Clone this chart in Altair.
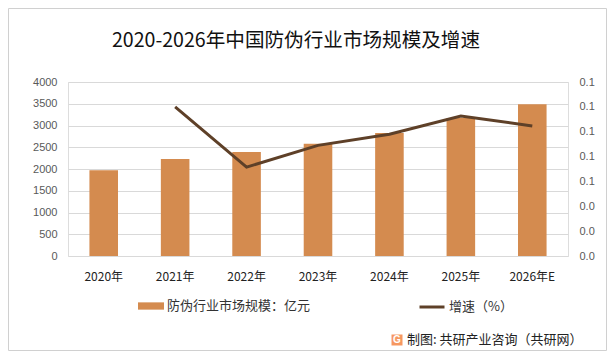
import altair as alt
import pandas as pd

years = ["2020年", "2021年", "2022年", "2023年", "2024年", "2025年", "2026年E"]
market_size = [1970, 2230, 2390, 2580, 2830, 3170, 3490]
growth_years = ["2021年", "2022年", "2023年", "2024年", "2025年", "2026年E"]
growth_rate = [0.120, 0.0715, 0.089, 0.098, 0.1127, 0.1046]

bar_label = "防伪行业市场规模：亿元"
line_label = "增速（%）"
title_text = "2020-2026年中国防伪行业市场规模及增速"
footer_text = "制图: 共研产业咨询（共研网）"

BAR_COLOR = "#D48B4F"
LINE_COLOR = "#5E4028"
CJK = "Noto Sans CJK SC"

df_bar = pd.DataFrame({"year": years, "size": market_size, "series": bar_label})
df_line = pd.DataFrame({"year": growth_years, "rate": growth_rate, "series": line_label})

x_enc = alt.X("year:N", sort=years, title=None,
              scale=alt.Scale(paddingInner=0.6, paddingOuter=0.3),
              axis=alt.Axis(labelAngle=0, labelFont=CJK, labelFontSize=12, labelColor="#222222",
                            ticks=False, domain=False, labelPadding=15))

bars = alt.Chart(df_bar).mark_bar(color=BAR_COLOR).encode(
    x=x_enc,
    y=alt.Y("size:Q", title=None, scale=alt.Scale(domain=[0, 4000], nice=False),
            axis=alt.Axis(values=list(range(0, 4001, 500)), format="d", grid=True,
                          gridColor="#d9d9d9", ticks=False, domain=False,
                          labelFont="Liberation Sans", labelFontSize=11,
                          labelColor="#595959", labelPadding=11)),
    fill=alt.Fill("series:N", scale=alt.Scale(domain=[bar_label], range=[BAR_COLOR]),
                  legend=alt.Legend(title=None, orient="none", legendX=70, legendY=211,
                                    symbolType="M-1,-0.28H1V0.28H-1Z", symbolSize=676,
                                    labelFont=CJK, labelFontSize=13, labelColor="#333333",
                                    padding=0, labelOffset=3, symbolStrokeWidth=0)),
)

line = alt.Chart(df_line).mark_line(color=LINE_COLOR, strokeWidth=3).encode(
    x=x_enc,
    y=alt.Y("rate:Q", title=None, scale=alt.Scale(domain=[0, 0.14], nice=False),
            axis=alt.Axis(orient="right", values=[0, 0.02, 0.04, 0.06, 0.08, 0.10, 0.12, 0.14],
                          format=".1f", grid=False, ticks=False, domain=False,
                          labelFont="Liberation Sans", labelFontSize=11, labelColor="#595959",
                          labelPadding=11)),
    stroke=alt.Stroke("series:N", scale=alt.Scale(domain=[line_label], range=[LINE_COLOR]),
                      legend=alt.Legend(title=None, orient="none", legendX=350, legendY=211,
                                        symbolType="stroke", symbolSize=625, symbolStrokeWidth=3,
                                        labelFont=CJK, labelFontSize=13, labelColor="#333333",
                                        padding=0, labelOffset=3)),
)

one = pd.DataFrame({"a": [0]})
border = alt.Chart(one).mark_rect(fill=None, stroke="#d0d0d0", strokeWidth=1, clip=False).encode(
    x=alt.value(-59.5), x2=alt.value(538.5), y=alt.value(-73.5), y2=alt.value(268.5))
title = alt.Chart(one).mark_text(text=title_text, align="center", baseline="middle",
                                 font=CJK, fontSize=19.6, color="#111111", clip=False).encode(
    x=alt.value(228), y=alt.value(-41))
icon = alt.Chart(one).mark_square(color="#F26B1D", size=121, clip=False).encode(
    x=alt.value(329), y=alt.value(258))
icon_g = alt.Chart(one).mark_text(text="G", color="white", fontSize=10, fontWeight="bold",
                                  font="Liberation Sans", clip=False).encode(
    x=alt.value(329), y=alt.value(258))
footer = alt.Chart(one).mark_text(text=footer_text, align="left", baseline="middle",
                                  font=CJK, fontSize=13, color="#222222", clip=False).encode(
    x=alt.value(339), y=alt.value(258))

chart = alt.layer(border, title, bars, line, icon, icon_g, footer).resolve_scale(
    y="independent", fill="independent", stroke="independent"
).properties(
    width=500, height=174,
    autosize=alt.AutoSizeParams(type="none"),
    padding={"left": 60, "top": 74, "right": 39, "bottom": 95},
).configure_view(stroke=None).configure(background="white")

chart.save("out.html", embed_options={"renderer": "svg", "actions": False})
